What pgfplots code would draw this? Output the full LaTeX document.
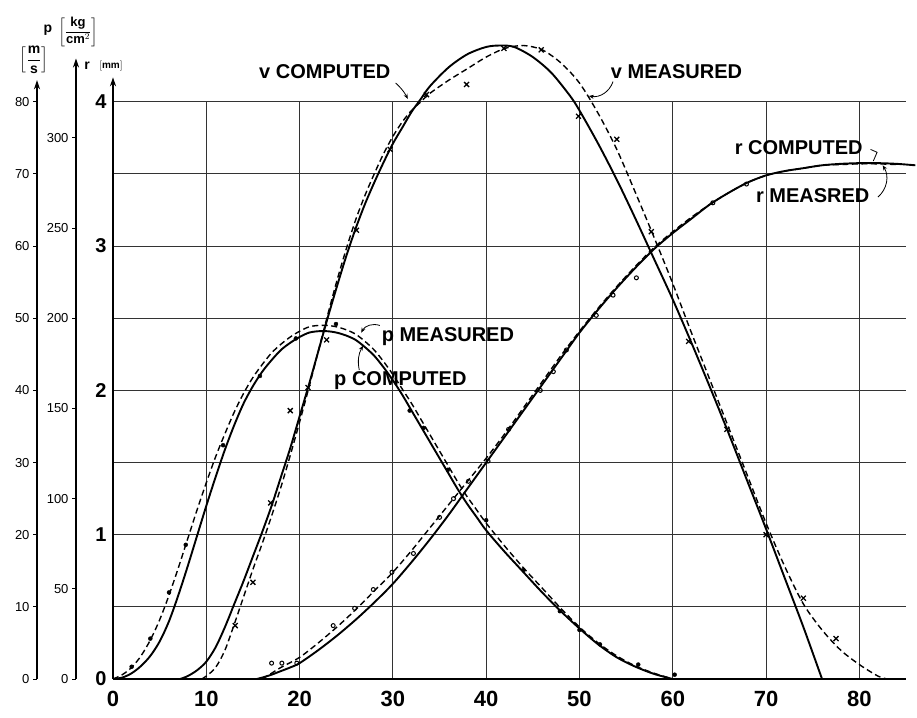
\documentclass[border=0pt]{standalone}
\usepackage{amsmath}
\usepackage{pgfplots}
\pgfplotsset{compat=1.18}
\usepackage{fontspec}
\setmainfont{Liberation Sans}
\usetikzlibrary{arrows.meta}

\pgfplotsset{
  auxax/.style={scale only axis, width=1pt, xmin=0, xmax=1,
    axis x line=none, axis y line=left, anchor=south west,
    y axis line style={line width=1.3pt, -{Stealth[length=9pt,width=6pt]}},
    tick align=outside, major tick length=4pt,
    tick style={line width=1pt, black},
    yticklabel style={font=\fontsize{13}{13}\selectfont}},
  solidc/.style={black, line width=1.9pt, smooth, tension=0.5},
  dashc/.style={black, line width=1.4pt, dash pattern=on 6pt off 3.5pt, smooth, tension=0.5},
}
\tikzset{
  lead/.style={line width=0.8pt, -{Stealth[length=5pt,width=4pt]}},
  lab/.style={font=\fontsize{20}{20}\selectfont\bfseries}
}

\begin{document}
\begin{tikzpicture}
\useasboundingbox (-113pt,-38pt) rectangle (804pt,679pt);

\begin{axis}[name=main, at={(0pt,0pt)}, anchor=south west, scale only axis,
  width=793pt, height=577.2pt,
  xmin=0, xmax=85, ymin=0, ymax=4, clip=false,
  axis x line=bottom, axis y line=left,
  x axis line style={-, line width=1.5pt},
  y axis line style={draw=none},
  xtick={0,10,...,80}, xticklabels={0,10,20,30,40,50,60,70,80},
  ytick={0.5,1,...,4}, yticklabels={},
  grid=major, major grid style={line width=1pt, black!80},
  major tick length=0pt,
  xticklabel style={font=\fontsize{22}{22}\selectfont\bfseries, yshift=-9pt},
]
% p computed
\addplot[solidc] coordinates {(0,0) (1,0.01) (2,0.04) (3,0.09) (4,0.16) (5,0.26) (6,0.40) (7,0.58) (8,0.78) (9,0.99) (10,1.2) (11,1.4) (12,1.59) (13,1.76) (14,1.91) (15,2.03) (16,2.13) (17,2.21) (18,2.28) (19,2.33) (20,2.37) (21,2.40) (22,2.41) (23,2.41) (24,2.40) (25,2.38) (26,2.35) (27,2.30) (28,2.24) (29,2.16) (30,2.07) (31,1.97) (32,1.86) (33,1.75) (34,1.64) (35,1.53) (36,1.42) (37,1.31) (38,1.21) (39,1.12) (40,1.03) (42,0.88) (44,0.74) (46,0.60) (48,0.47) (50,0.35) (52,0.24) (54,0.15) (56,0.085) (58,0.035) (60,0.0)};
% p measured
\addplot[dashc] coordinates {(0,0) (1,0.03) (2,0.08) (3,0.16) (4,0.27) (5,0.41) (6,0.58) (7,0.77) (8,0.97) (9,1.17) (10,1.36) (11,1.54) (12,1.7) (13,1.85) (14,1.98) (15,2.09) (16,2.18) (17,2.26) (18,2.32) (19,2.37) (20,2.41) (21,2.44) (22,2.45) (23,2.45) (24,2.44) (25,2.42) (26,2.39) (27,2.34) (28,2.28) (29,2.20) (30,2.11) (31,2.01) (32,1.91) (33,1.80) (34,1.69) (35,1.58) (36,1.47) (37,1.36) (38,1.26) (39,1.17) (40,1.08) (42,0.92) (44,0.77) (46,0.63) (48,0.49) (50,0.36) (52,0.25) (54,0.16) (56,0.09) (58,0.04) (60,0.0)};
\addplot[only marks, mark=*, mark size=2pt, black] coordinates {(2,0.085) (4,0.28) (6,0.6) (7.8,0.93) (11.8,1.62) (15.75,2.1) (19.6,2.36) (23.9,2.46) (31.8,1.86) (33.3,1.74) (35.9,1.45) (40,1.10) (44,0.755) (47.9,0.47) (50,0.34) (52.2,0.24) (56.3,0.10) (60.2,0.03)};
% v computed
\addplot[solidc] coordinates {(7.2,0) (8,0.02) (9,0.06) (10,0.12) (11,0.22) (12,0.36) (13,0.52) (14,0.68) (15,0.85) (16,1.02) (17,1.2) (18,1.4) (19,1.6) (20,1.82) (21,2.04) (22,2.27) (23,2.50) (24,2.72) (25,2.93) (26,3.12) (27,3.29) (28,3.44) (29,3.58) (30,3.71) (31,3.82) (32,3.93) (33,4.02) (34,4.11) (36,4.24) (38,4.33) (40,4.38) (41.5,4.39) (43,4.38) (45,4.31) (47,4.2) (49,4.04) (50,3.94) (52,3.71) (54,3.46) (56,3.19) (58,2.91) (60,2.63) (62,2.33) (64,2.02) (66,1.70) (68,1.37) (70,1.04) (72,0.70) (74,0.36) (76,0.0)};
% v measured
\addplot[dashc] coordinates {(9.5,0) (10,0.02) (11,0.08) (12,0.2) (13,0.38) (14,0.57) (15,0.76) (16,0.94) (17,1.13) (18,1.33) (19,1.55) (20,1.78) (21,2.02) (22,2.27) (23,2.52) (24,2.76) (25,2.98) (26,3.18) (27,3.35) (28,3.50) (29,3.64) (30,3.76) (31,3.86) (32,3.94) (33,4.0) (34,4.06) (36,4.15) (38,4.23) (40,4.31) (42,4.37) (44,4.39) (46,4.36) (48,4.27) (50,4.13) (52,3.92) (54,3.67) (56,3.37) (58,3.06) (60,2.74) (62,2.40) (64,2.07) (66,1.74) (68,1.41) (70,1.08) (72,0.78) (74,0.52) (76,0.34) (78,0.2) (80,0.1) (82,0.02) (83,0)};
\addplot[only marks, mark=x, mark size=3.5pt, line width=1.3pt, black] coordinates {(13.1,0.37) (15.0,0.67) (16.9,1.22) (19.0,1.86) (20.9,2.02) (22.9,2.35) (26.1,3.11) (29.7,3.67) (33.6,4.05) (37.9,4.12) (41.9,4.37) (45.9,4.36) (49.9,3.90) (54.0,3.74) (57.7,3.10) (61.7,2.34) (65.8,1.73) (70,1.0) (74,0.56) (77.5,0.28)};
% r computed
\addplot[solidc] coordinates {(15.4,0) (16,0.01) (17,0.03) (18,0.055) (19,0.08) (20,0.11) (22,0.20) (24,0.30) (26,0.41) (28,0.53) (30,0.66) (32,0.81) (34,0.97) (36,1.14) (38,1.32) (40,1.50) (42,1.68) (44,1.86) (46,2.04) (48,2.22) (50,2.40) (52,2.56) (54,2.71) (56,2.85) (58,2.98) (60,3.09) (62,3.19) (64,3.29) (66,3.37) (68,3.44) (70,3.49) (72,3.52) (74,3.54) (76,3.56) (78,3.57) (80,3.575) (82,3.575) (84,3.57) (86,3.56)};
% r measured
\addplot[dashc] coordinates {(16,0) (17,0.04) (18,0.08) (20,0.15) (22,0.25) (24,0.36) (26,0.48) (28,0.61) (30,0.74) (32,0.89) (34,1.05) (36,1.21) (38,1.37) (40,1.53) (42,1.70) (44,1.88) (46,2.06) (48,2.24) (50,2.41) (52,2.57) (54,2.72) (56,2.86) (58,2.99) (60,3.10) (62,3.20) (64,3.29) (66,3.37) (68,3.44) (70,3.49) (72,3.52) (74,3.54) (76,3.56) (78,3.565) (80,3.57) (82,3.57) (84,3.565)};
\addplot[only marks, mark=o, mark size=2pt, line width=1pt, black] coordinates {(17,0.11) (18.1,0.11) (19.7,0.11) (23.6,0.37) (25.9,0.49) (27.9,0.62) (29.9,0.74) (32.2,0.87) (35,1.12) (36.5,1.25) (38.1,1.37) (40.2,1.51) (42.4,1.73) (45.8,2.0) (47.2,2.13) (48.6,2.28) (51.8,2.52) (53.6,2.66) (56.1,2.78) (64.3,3.30) (67.9,3.43)};

% labels
\node[lab] at (axis cs:22.7,4.21) {v COMPUTED};
\draw[lead] (axis cs:30.3,4.13) to[bend left=10] (axis cs:31.6,4.02);
\node[lab] at (axis cs:60.4,4.21) {v MEASURED};
\draw[lead] (axis cs:53.6,4.14) to[bend left=40] (axis cs:51.0,4.04);
\node[lab] at (axis cs:73.5,3.68) {r COMPUTED};
\draw[line width=0.8pt] (axis cs:81.2,3.67) -- (axis cs:81.9,3.65) -- (axis cs:81.5,3.59);
\node[lab] at (axis cs:75.0,3.35) {r MEASRED};
\draw[lead] (axis cs:82.0,3.34) to[bend right=40] (axis cs:82.5,3.56);
\node[lab] at (axis cs:35.9,2.37) {p MEASURED};
\draw[lead] (axis cs:28.6,2.45) to[bend right=40] (axis cs:26.6,2.40);
\node[lab] at (axis cs:30.8,2.065) {p COMPUTED};
\draw[lead] (axis cs:26.4,2.14) to[bend left=20] (axis cs:26.8,2.31);
\end{axis}

% r axis
\begin{axis}[auxax, at={(0pt,0pt)}, height=601.7pt, ymin=0, ymax=4.17,
  ytick={0,1,2,3,4}, yticklabels={0,1,2,3,4}, major tick length=0pt,
  yticklabel style={font=\fontsize{20}{20}\selectfont\bfseries, xshift=-3pt}]
\end{axis}
% v axis
\begin{axis}[auxax, at={(-76pt,0pt)}, height=598.8pt, ymin=0, ymax=83,
  ytick={0,10,...,80}, yticklabels={0,10,20,30,40,50,60,70,80}]
\end{axis}
% p axis
\begin{axis}[auxax, at={(-37pt,0pt)}, height=620.5pt, ymin=0, ymax=344,
  ytick={0,50,...,300}, yticklabels={0,50,100,150,200,250,300}]
\end{axis}

% unit labels
\node[font=\fontsize{14}{14}\selectfont\bfseries] at (-79pt,619pt) {$\left[\dfrac{\text{m}}{\text{s}}\right]$};
\node[font=\fontsize{14}{14}\selectfont\bfseries] at (-65pt,649pt) {p};
\node[font=\fontsize{13}{13}\selectfont\bfseries] at (-35pt,647pt) {$\left[\dfrac{\text{kg}}{\text{cm}^2}\right]$};
\node[font=\fontsize{14}{14}\selectfont\bfseries] at (-26pt,613pt) {r};
\node[font=\fontsize{10}{10}\selectfont\bfseries] at (-2pt,613pt) {$\left[\text{mm}\right]$};
\end{tikzpicture}
\end{document}
